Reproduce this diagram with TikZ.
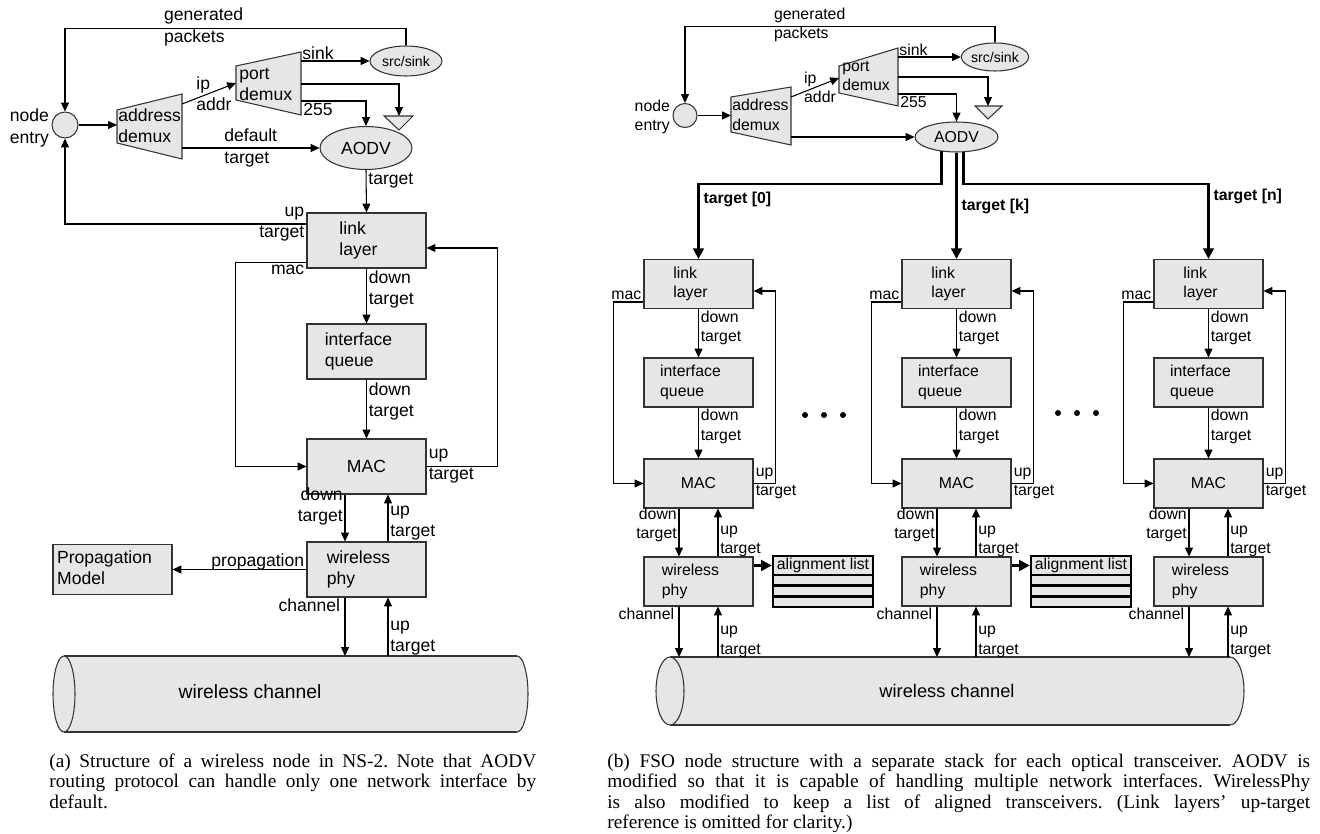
\documentclass[tikz,border=0pt]{standalone}
\usepackage{fontspec}
\setmainfont{Liberation Serif}
\setsansfont{Liberation Sans}
\usetikzlibrary{arrows.meta,shapes.geometric}

\definecolor{boxgray}{HTML}{E6E6E6}
\newcommand{\bl}[1]{\begin{tabular}{@{}l@{\hspace{0.32cm}}}#1\end{tabular}}

\tikzset{
  fa/.style={font=\sffamily\fontsize{10}{12}\selectfont},
  fb/.style={font=\sffamily\fontsize{9}{11}\selectfont},
  ftb/.style={font=\sffamily\bfseries\fontsize{9}{11}\selectfont},
  lab/.style={inner sep=1pt},
  grayfill/.style={draw=black!80, fill=boxgray, line width=0.6pt},
  blk/.style={grayfill, inner sep=0pt},
  boxa/.style={blk, minimum width=2.38cm, minimum height=1.1cm},
  boxb/.style={blk, minimum width=2.18cm, minimum height=0.98cm},
  conn/.style={->, line width=0.6pt},
  fat/.style={-{Triangle[length=6pt,width=6pt]}, line width=1.7pt},
  alst/.style={draw=black, fill=boxgray, line width=1.4pt},
  captxt/.style={font=\fontsize{11}{11.4}\selectfont\frenchspacing, align=justify, inner sep=0pt, anchor=north west},
}

\begin{document}
\begin{tikzpicture}[x=0.02cm, y=-0.02cm, >={Triangle[length=5pt,width=4.5pt]}]
  \fill[white] (0,0) rectangle (1320,834);
  \useasboundingbox (0,0) rectangle (1320,834);

%% (a) ns-2 wireless node
  \node[blk, circle, minimum size=0.52cm] (entA) at (65,125) {};
  \node[fa, lab, align=right, anchor=east] (enlA) at (51,128) {node\\entry};
  \draw[grayfill] (117,110) -- (182,94) -- (182,159) -- (117,143) -- cycle;
  \node[fa, inner sep=0pt, anchor=west, align=left] (adA) at (118,126) {address\\demux};
  \draw[grayfill] (236,66) -- (301,52) -- (301,115) -- (236,100) -- cycle;
  \node[fa, inner sep=0pt, anchor=west, align=left] (pdA) at (239,84) {port\\demux};
  \draw[grayfill] (384,116) -- (413,116) -- (399,130) -- cycle;
  \coordinate (gnA) at (399,116);
  \node[blk, ellipse, minimum width=1.44cm, minimum height=0.6cm, font=\sffamily\fontsize{8}{9.6}\selectfont] (ssA) at (406,61) {src/sink};
  \node[blk, ellipse, minimum width=1.84cm, minimum height=0.86cm, fa] (aoA) at (366,148) {AODV};
  \node[fa, lab, align=left, anchor=west] (genA) at (162,27) {generated\\packets};

  \coordinate (adAi) at (117,125);
  \coordinate (adAo) at (182,104);
  \coordinate (adAd) at (182,148);
  \coordinate (pdAi) at (236,83);
  \coordinate (pdAs) at (301,61);
  \coordinate (pdAg) at (301,84);
  \coordinate (pdAb) at (301,101);

  \draw[conn] (entA) -- (adAi);
  \draw[conn] (adAo) -- node[fa, lab, align=left, xshift=0.1cm] {ip\\addr} (pdAi);
  \draw[conn] (pdAs) -- node[pos=0, anchor=south west, fa, inner sep=0.5pt] {sink} (ssA.west);
  \draw[conn] (pdAg) -| (gnA);
  \draw[conn] (pdAb) -| node[pos=0, anchor=north west, fa, lab] {255} (aoA.north);
  \draw[conn] (ssA.north) -- ++(0,-17) -| (entA.north);
  \draw[conn] (adAd) -- node[fa, lab, align=left] {default\\target} (aoA.west);

  \node[boxa, fa] (lkA) at (366.5,240.5) {\bl{link\\layer}};
  \node[boxa, fa] (iqA) at (366.5,351.5) {\bl{interface\\queue}};
  \node[boxa, fa] (mcA) at (366.5,466.5) {MAC\hspace{0.18cm}};
  \node[boxa, fa] (phA) at (366.5,569.5) {\bl{wireless\\phy}};
  \node[boxa, fa, minimum height=1.0cm] (prA) at (112.5,569.5) {\bl{Propagation\\Model}};

  \draw[conn] (aoA.south) -- node[pos=0.26, anchor=west, fa, lab] {target} (lkA.north);
  \draw[conn] (lkA) -- node[pos=0.38, anchor=west, fa, lab, align=left] {down\\target} (iqA);
  \draw[conn] (iqA) -- node[pos=0.37, anchor=west, fa, lab, align=left] {down\\target} (mcA);
  \draw[conn] ([yshift=0.33cm]lkA.west) -| node[pos=0, anchor=east, fa, lab, align=right] {up\\target} (entA.south);
  \draw[conn] ([yshift=0.12cm]lkA.south west) -- node[pos=0, anchor=north east, fa, lab] {mac} ++(-71,0) |- (mcA.west);
  \draw[conn] (mcA.east) -- node[pos=0, anchor=west, fa, lab, align=left] {up\\target} ++(71,0) |- ([yshift=-0.15cm]lkA.east);
  \draw[conn] ([xshift=-0.43cm]mcA.south) -- node[pos=0.26, anchor=east, fa, lab, align=right] {down\\target} ([xshift=-0.43cm]phA.north);
  \draw[conn] ([xshift=0.43cm]phA.north) -- node[pos=0.39, anchor=west, fa, lab, align=left] {up\\target} ([xshift=0.43cm]mcA.south);
  \draw[conn] (phA.west) -- node[pos=0, anchor=base east, yshift=0.06cm, fa, lab] {propagation} (prA.east);

% channel pipe (a)
  \draw[grayfill] (517,694) ellipse [x radius=0.22cm, y radius=0.76cm];
  \fill[boxgray] (64,656) rectangle (517,732);
  \draw[line width=0.6pt, draw=black!80] (64,656) -- (517,656) (64,732) -- (517,732);
  \draw[grayfill] (64,694) ellipse [x radius=0.22cm, y radius=0.76cm];
  \node[font=\sffamily\fontsize{11}{13}\selectfont] (chA) at (250,692) {wireless channel};
  \coordinate (cyA) at (0,656);
  \coordinate (cdA) at ([xshift=-0.43cm]phA.south);
  \coordinate (cuA) at ([xshift=0.43cm]phA.south);
  \draw[conn] (cdA) -- node[pos=0, anchor=north east, fa, inner xsep=2.5pt, inner ysep=0.5pt] {channel} (cdA |- cyA);
  \draw[conn] (cuA |- cyA) -- node[pos=0.3, anchor=west, fa, lab, align=left] {up\\target} (cuA);

%% (b) FSO node
  \node[blk, circle, minimum size=0.48cm] (entB) at (685,115.5) {};
  \node[fb, lab, align=right, anchor=east] (enlB) at (672,117) {node\\entry};
  \draw[grayfill] (731,97) -- (791,87) -- (791,145) -- (731,132) -- cycle;
  \node[fb, inner sep=0pt, anchor=west, align=left] (adB) at (732,115) {address\\demux};
  \draw[grayfill] (839,66) -- (898,48) -- (898,106) -- (839,93) -- cycle;
  \node[fb, inner sep=0pt, anchor=west, align=left] (pdB) at (842,76) {port\\demux};
  \draw[grayfill] (975,106) -- (1002,106) -- (988,119) -- cycle;
  \coordinate (gnB) at (988,106);
  \node[blk, ellipse, minimum width=1.28cm, minimum height=0.56cm, font=\sffamily\fontsize{8}{9.6}\selectfont] (ssB) at (995,57) {src/sink};
  \node[blk, ellipse, minimum width=1.66cm, minimum height=0.6cm, fb] (aoB) at (956.5,137) {AODV};
  \node[fb, lab, align=left, anchor=west] (genB) at (772,25) {generated\\packets};

  \coordinate (adBi) at (731,115.5);
  \coordinate (adBo) at (791,97);
  \coordinate (adBd) at (791,137);
  \coordinate (pdBi) at (839,78);
  \coordinate (pdBs) at (898,57);
  \coordinate (pdBg) at (898,77);
  \coordinate (pdBb) at (898,94);

  \draw[conn] (entB) -- (adBi);
  \draw[conn] (adBo) -- node[fb, lab, align=left, xshift=0.1cm] {ip\\addr} (pdBi);
  \draw[conn] (pdBs) -- node[pos=0, anchor=south west, fb, inner sep=0.5pt] {sink} (ssB.west);
  \draw[conn] (pdBg) -| (gnB);
  \draw[conn] (pdBb) -| node[pos=0, anchor=north west, fb, lab] {255} (aoB.north);
  \draw[conn] (ssB.north) -- ++(0,-16) -| (entB.north);
  \draw[conn] (adBd) -- (aoB.west);

% channel pipe (b)
  \draw[grayfill] (1230,691) ellipse [x radius=0.28cm, y radius=0.68cm];
  \fill[boxgray] (670,657) rectangle (1230,725);
  \draw[line width=0.6pt, draw=black!80] (670,657) -- (1230,657) (670,725) -- (1230,725);
  \draw[grayfill] (670,691) ellipse [x radius=0.28cm, y radius=0.68cm];
  \node[font=\sffamily\fontsize{10.4}{12}\selectfont] (chB) at (947,691) {wireless channel};
  \coordinate (cyB) at (0,657);

% one stack per transceiver
  \foreach \i/\cx in {1/698.5, 2/956.5, 3/1208.5}{
    \node[boxb, fb] (lk\i) at (\cx,284) {\bl{link\\layer}};
    \node[boxb, fb] (iq\i) at (\cx,382.5) {\bl{interface\\queue}};
    \node[boxb, fb] (mc\i) at (\cx,483.5) {MAC\hspace{0.18cm}};
    \node[boxb, fb] (ph\i) at (\cx,581.5) {\bl{wireless\\phy}};
    \draw[conn] (lk\i) -- node[pos=0.39, anchor=west, fb, lab, align=left] {down\\target} (iq\i);
    \draw[conn] (iq\i) -- node[pos=0.37, anchor=west, fb, lab, align=left] {down\\target} (mc\i);
    \draw[conn] ([yshift=0.14cm]lk\i.south west) -- node[pos=0, anchor=south east, fb, lab] {mac} ++(-30,0) |- (mc\i.west);
    \draw[conn] (mc\i.east) -- node[pos=0, anchor=west, fb, lab, align=left] {up\\target} ++(22,0) |- ([yshift=-0.14cm]lk\i.east);
    \draw[conn] ([xshift=-0.39cm]mc\i.south) -- node[pos=0.34, anchor=east, fb, lab, align=right] {down\\target} ([xshift=-0.39cm]ph\i.north);
    \draw[conn] ([xshift=0.39cm]ph\i.north) -- node[pos=0.32, anchor=west, fb, lab, align=left] {up\\target} ([xshift=0.39cm]mc\i.south);
    \coordinate (cd\i) at ([xshift=-0.39cm]ph\i.south);
    \coordinate (cu\i) at ([xshift=0.39cm]ph\i.south);
    \draw[conn] (cd\i) -- node[pos=0, anchor=north east, fb, inner xsep=2.5pt, inner ysep=0.5pt] {channel} (cd\i |- cyB);
    \draw[conn] (cu\i |- cyB) -- node[pos=0.3, anchor=west, fb, lab, align=left] {up\\target} (cu\i);
  }

% AODV fans out to every link layer
  \coordinate (bus) at (0,184);
  \draw[fat] (aoB.223) |- (lk1.north |- bus) -- node[pos=0.2, anchor=west, ftb, inner sep=2pt] {target [0]} (lk1.north);
  \draw[fat] (aoB.south) -- node[pos=0.51, anchor=west, ftb, inner sep=2pt] {target [k]} (lk2.north);
  \draw[fat] (aoB.295) |- (lk3.north |- bus) -- node[pos=0.17, anchor=west, ftb, inner sep=2pt] {target [n]} (lk3.north);

% alignment lists
  \foreach \i/\cx in {1/698.5, 2/956.5}{
    \node[alst, fb, minimum width=2cm, minimum height=0.38cm, inner sep=0pt] (al\i) at (\cx+124.5,565.5) {alignment list};
    \foreach \r in {0,1,2}
      \draw[alst] (\cx+74.5,575+\r*10.67) rectangle ++(100,10.67);
    \draw[fat] (ph\i.east |- al\i.west) -- (al\i.west);
  }

  \foreach \d in {0,19,38}{
    \fill (805+\d,415) circle (0.06cm);
    \fill (1058+\d,413) circle (0.06cm);
  }

%% captions
  \node[captxt, text width=9.74cm] (capA) at (49,754) {(a) Structure of a wireless node in NS-2. Note that AODV\linebreak routing protocol can handle only one network interface by\linebreak default.};
  \node[captxt, text width=14.06cm] (capB) at (607,754) {(b) FSO node structure with a separate stack for each optical transceiver. AODV is\linebreak modified so that it is capable of handling multiple network interfaces. WirelessPhy\linebreak is also modified to keep a list of aligned transceivers. (Link layers' up-target\linebreak reference is omitted for clarity.)};
\end{tikzpicture}
\end{document}
